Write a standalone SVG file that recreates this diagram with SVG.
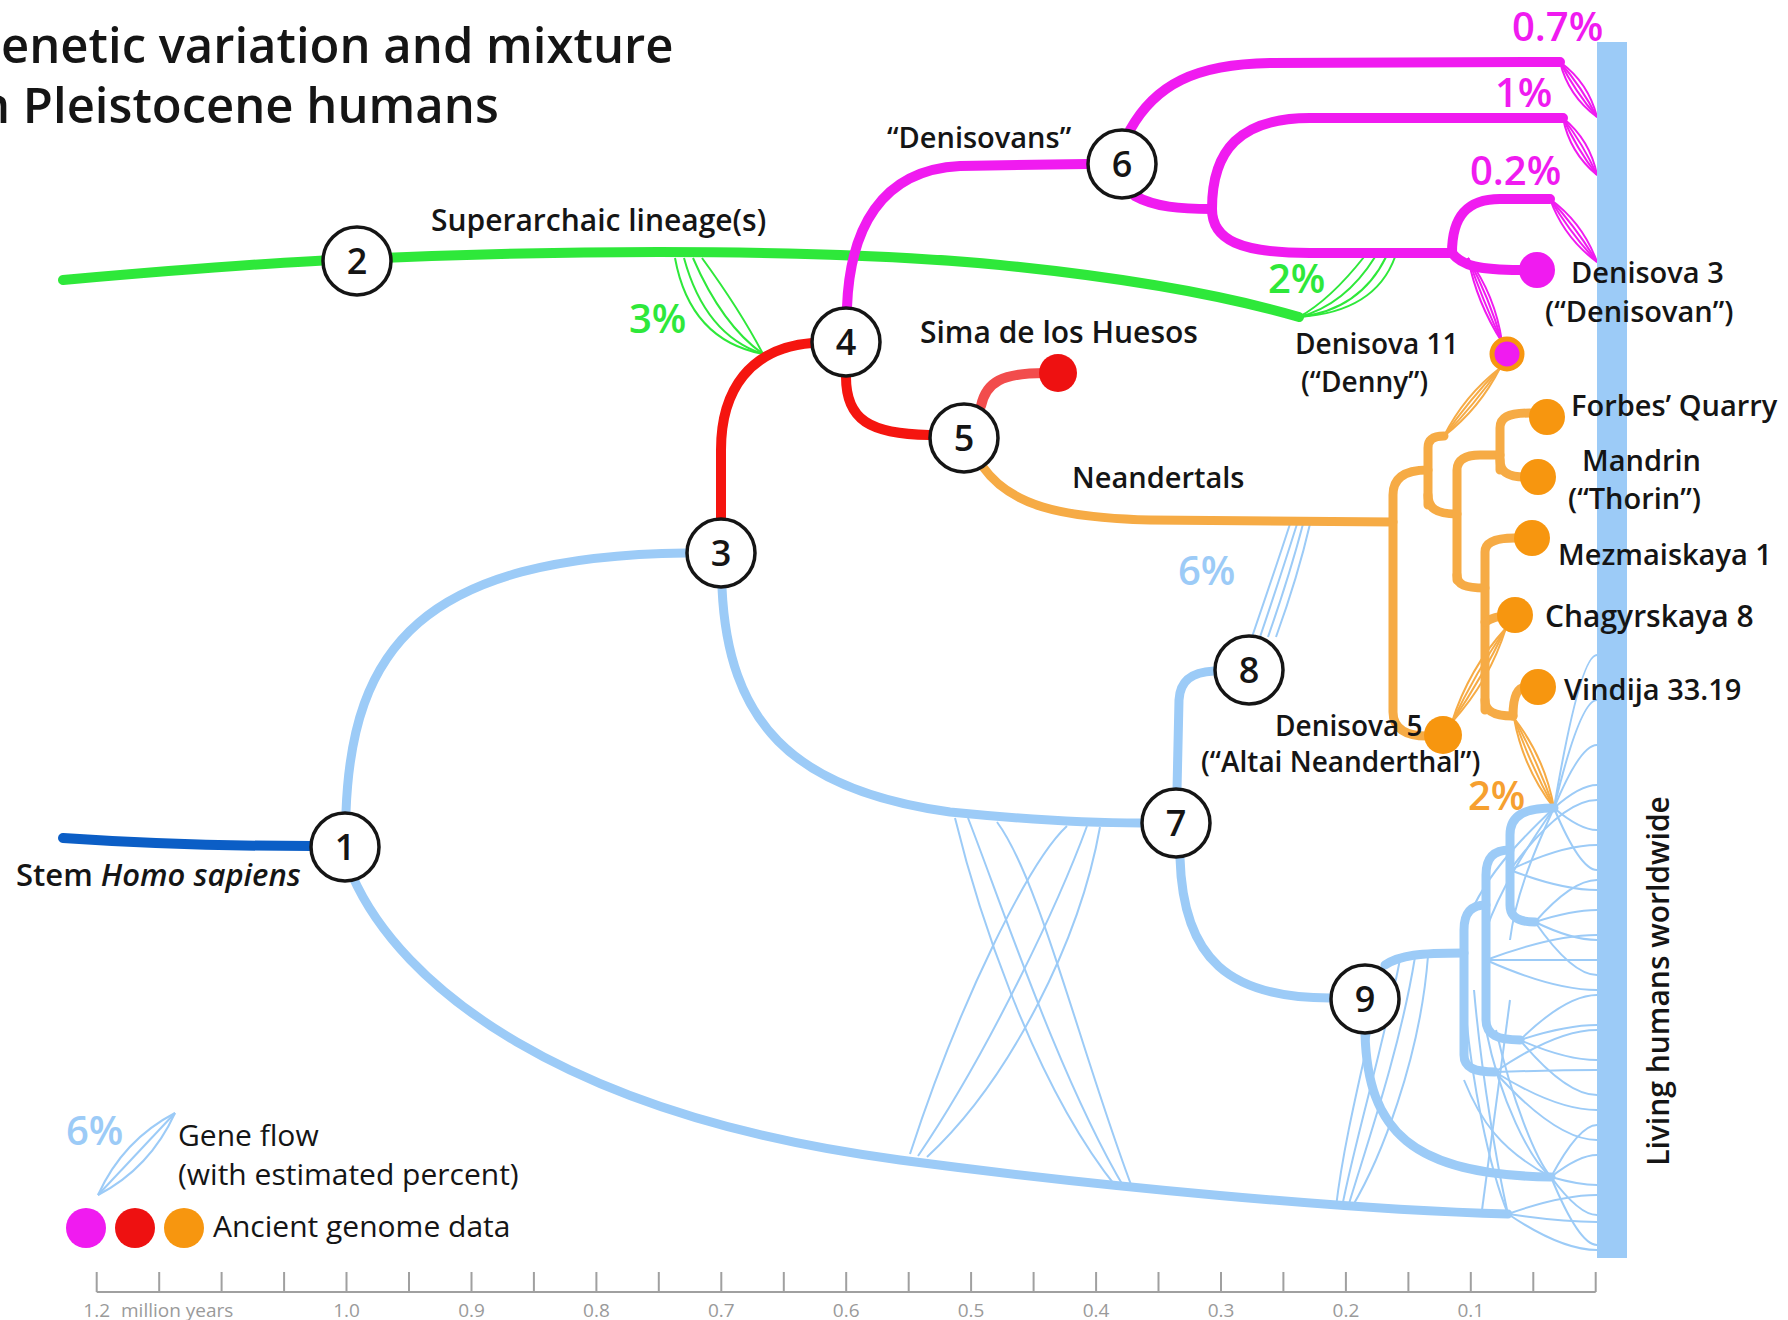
<svg xmlns="http://www.w3.org/2000/svg" width="1788" height="1320" viewBox="0 0 1788 1320">
<style>
text{font-family:"Open Sans","Liberation Sans",sans-serif;fill:#151515}
.t{font-size:49px;font-weight:600}
.lbl{font-size:29px;font-weight:600}
.leg{font-size:30px;font-weight:500}
.pct{font-size:40px;font-weight:600}
.num{font-size:36px;font-weight:600;text-anchor:middle}
.ax{font-size:19px;fill:#9a9a9a;text-anchor:middle}
.k{fill:none;stroke-linecap:round;stroke-width:10}
.f{fill:none;stroke-width:2}
.bl{stroke:#9ccbf7}
.mg{stroke:#f01bf0}
.gr{stroke:#2ee83a}
.rd{stroke:#f5150f}
.or{stroke:#f6ab45}
.nd circle{fill:#fff;stroke:#151515;stroke-width:3.5}
</style>

<g id="title">
<text class="t" x="1" y="63">enetic variation and mixture</text>
<text class="t" x="-21" y="123">n Pleistocene humans</text>
</g>

<g id="connectors">
<g class="f gr">
<path d="M675,258 Q690,340 763,354"/>
<path d="M684,258 Q705,335 763,354"/>
<path d="M693,258 Q722,325 763,354"/>
<path d="M702,258 Q740,310 763,354"/>
<path d="M1299,317 Q1330,300 1364,257"/>
<path d="M1299,317 Q1345,305 1375,257"/>
<path d="M1299,317 Q1360,310 1386,257"/>
<path d="M1299,317 Q1375,312 1395,257"/>
</g>
<g class="f mg">
<path d="M1560,62 Q1568.5,96.2 1597,117"/>
<path d="M1560,62 Q1575.2,91.7 1597,117"/>
<path d="M1560,62 Q1581.8,87.3 1597,117"/>
<path d="M1560,62 Q1588.5,82.8 1597,117"/>
<path d="M1563,118 Q1569.7,152.6 1597,175"/>
<path d="M1563,118 Q1576.6,148.5 1597,175"/>
<path d="M1563,118 Q1583.4,144.5 1597,175"/>
<path d="M1563,118 Q1590.3,140.4 1597,175"/>
<path d="M1550,199 Q1563.9,237.7 1597,262"/>
<path d="M1550,199 Q1570.3,232.9 1597,262"/>
<path d="M1550,199 Q1576.7,228.1 1597,262"/>
<path d="M1550,199 Q1583.1,223.3 1597,262"/>
<path d="M1468,258 Q1476.7,302.6 1502,342"/>
<path d="M1468,258 Q1482.7,300.3 1502,342"/>
<path d="M1468,258 Q1489.3,297.7 1502,342"/>
<path d="M1468,258 Q1495.3,295.4 1502,342"/>
</g>
<g class="f or">
<path d="M1444,436 Q1479.7,408.4 1500,368"/>
<path d="M1444,436 Q1474.7,404.2 1500,368"/>
<path d="M1444,436 Q1469.3,399.8 1500,368"/>
<path d="M1444,436 Q1464.3,395.6 1500,368"/>
<path d="M1452,722 Q1489.4,681 1506,628"/>
<path d="M1452,722 Q1482.5,677 1506,628"/>
<path d="M1452,722 Q1475.5,673 1506,628"/>
<path d="M1452,722 Q1468.6,669 1506,628"/>
<path d="M1514,718 Q1523,767.9 1554,808"/>
<path d="M1514,718 Q1530.3,764.6 1554,808"/>
<path d="M1514,718 Q1537.7,761.4 1554,808"/>
<path d="M1514,718 Q1545,758.1 1554,808"/>
</g>
<g class="f bl">
<path d="M1252,637 Q1275,570 1290,524"/>
<path d="M1260,637 Q1282,572 1297,524"/>
<path d="M1268,637 Q1290,574 1303,524"/>
<path d="M1276,637 Q1298,576 1310,524"/>
<path d="M955,818 C975,900 1030,1080 1117,1188"/>
<path d="M968,818 C1000,900 1060,1080 1125,1189"/>
<path d="M997,822 C1040,880 1080,1050 1133,1190"/>
<path d="M1067,826 C1030,860 960,1000 910,1154"/>
<path d="M1087,826 C1060,900 990,1050 918,1156"/>
<path d="M1100,827 C1080,940 1010,1080 927,1157"/>
<path d="M1385,962 C1370,1040 1345,1130 1336,1207"/>
<path d="M1400,959 C1385,1040 1355,1140 1342,1207"/>
<path d="M1415,957 C1400,1050 1365,1150 1348,1207"/>
<path d="M1428,956 C1420,1060 1380,1160 1352,1207"/>
<path d="M1554,808 Q1580,655 1597,655"/>
<path d="M1554,808 Q1580,700 1597,700"/>
<path d="M1554,808 Q1580,745 1597,745"/>
<path d="M1554,808 Q1580,785 1597,785"/>
<path d="M1554,808 Q1580,830 1597,830"/>
<path d="M1554,808 Q1580,870 1597,870"/>
<path d="M1535,922 Q1572,880 1597,880"/>
<path d="M1535,922 Q1572,910 1597,910"/>
<path d="M1535,922 Q1572,940 1597,940"/>
<path d="M1535,922 Q1572,975 1597,975"/>
<path d="M1510,870 Q1562,800 1597,800"/>
<path d="M1510,870 Q1562,845 1597,845"/>
<path d="M1510,870 Q1562,890 1597,890"/>
<path d="M1486,960 Q1553,935 1597,935"/>
<path d="M1486,960 Q1553,960 1597,960"/>
<path d="M1486,960 Q1553,990 1597,990"/>
<path d="M1520,1040 Q1566,995 1597,995"/>
<path d="M1520,1040 Q1566,1025 1597,1025"/>
<path d="M1520,1040 Q1566,1060 1597,1060"/>
<path d="M1520,1040 Q1566,1095 1597,1095"/>
<path d="M1495,1072 Q1556,1030 1597,1030"/>
<path d="M1495,1072 Q1556,1070 1597,1070"/>
<path d="M1495,1072 Q1556,1110 1597,1110"/>
<path d="M1495,1072 Q1556,1140 1597,1140"/>
<path d="M1551,1177 Q1579,1125 1597,1125"/>
<path d="M1551,1177 Q1579,1155 1597,1155"/>
<path d="M1551,1177 Q1579,1185 1597,1185"/>
<path d="M1551,1177 Q1579,1215 1597,1215"/>
<path d="M1551,1177 Q1579,1245 1597,1245"/>
<path d="M1508,1214 Q1561,1195 1597,1195"/>
<path d="M1508,1214 Q1561,1222 1597,1222"/>
<path d="M1508,1214 Q1561,1250 1597,1250"/>
<path d="M1554,808 C1520,840 1480,880 1464,930"/>
<path d="M1554,808 C1525,850 1500,890 1486,930"/>
<path d="M1554,808 C1530,860 1515,900 1510,940"/>
<path d="M1464,990 C1470,1080 1490,1170 1508,1214"/>
<path d="M1474,990 C1482,1080 1498,1170 1508,1214"/>
<path d="M1486,1030 C1500,1100 1530,1160 1551,1177"/>
<path d="M1496,1030 C1512,1100 1536,1160 1551,1177"/>
<path d="M1464,1080 C1480,1120 1500,1150 1551,1177"/>
<path d="M1510,1000 C1500,1080 1490,1150 1482,1210"/>
</g>

<path class="k" stroke="#0b5ec6" d="M63,838 C150,844 250,846 311,846"/>
<path class="k gr" d="M63,280 C200,268 300,261 357,259 C600,248 850,250 1000,265 C1130,278 1230,297 1299,317"/>
<path class="k rd" d="M721,518 L721,450 C721,390 750,348 812,343"/>
<path class="k rd" d="M846,377 C846,420 870,434 929,435"/>
<path class="k" stroke="#f24c4c" d="M981,406 C986,382 1002,373 1045,373"/>
<path class="k mg" d="M847,307 C850,230 880,170 960,166 L1087,164"/>
<path class="k mg" d="M1130,130 C1155,85 1195,64 1270,63 L1560,62"/>
<path class="k mg" d="M1135,196 C1155,207 1180,209 1212,209"/>
<path class="k mg" d="M1212,209 C1212,150 1240,118 1310,118 L1563,118"/>
<path class="k mg" d="M1212,209 C1212,240 1240,253 1310,253 L1452,253"/>
<path class="k mg" d="M1452,253 C1452,215 1468,199 1500,199 L1550,199"/>
<path class="k mg" d="M1452,253 C1462,266 1480,270 1520,270"/>
<g class="k or" style="stroke-width:9">
<path d="M983,467 C1010,505 1060,518 1150,520 L1393,522"/>
<path d="M1428,470 C1402,470 1393,480 1393,495 L1393,712 C1393,728 1405,736 1427,736"/>
<path d="M1428,505 L1428,448 C1428,440 1433,436 1444,436"/>
<path d="M1428,495 C1428,508 1436,514 1457,514"/>
<path d="M1457,580 L1457,470 C1457,460 1465,455 1480,455 L1500,455"/>
<path d="M1500,470 L1500,428 C1500,418 1507,413 1530,413"/>
<path d="M1500,460 C1500,472 1508,477 1525,477"/>
<path d="M1457,575 C1457,585 1465,588 1485,588"/>
<path d="M1485,710 L1485,552 C1485,543 1495,538 1515,538"/>
<path d="M1485,622 C1492,618 1498,616 1505,616"/>
<path d="M1485,700 C1485,712 1495,716 1513,716"/>
<path d="M1513,716 C1513,700 1516,688 1525,687"/>
</g>
<g class="k bl" style="stroke-width:9">
<path d="M346,812 C352,650 420,556 686,553"/>
<path d="M352,875 C400,985 560,1115 900,1160 C1100,1186.5 1350,1210 1508,1214"/>
<path d="M722,588 C728,720 790,790 950,812 C1050,822 1100,823 1141,823"/>
<path d="M1177,790 L1179,700 C1180,680 1192,672 1214,671"/>
<path d="M1180,858 C1183,960 1230,998 1330,998"/>
<path d="M1385,965 C1400,955 1420,953 1464,953"/>
<path d="M1365,1034 C1368,1130 1410,1175 1551,1177"/>
<path d="M1554,808 C1525,808 1510,815 1510,835 L1510,905 C1510,918 1520,922 1535,922"/>
<path d="M1510,850 C1493,850 1486,858 1486,875 L1486,1020 C1486,1035 1498,1040 1520,1040"/>
<path d="M1486,905 C1472,905 1464,912 1464,930 L1464,1055 C1464,1068 1475,1072 1495,1072"/>
</g>
</g>

<rect id="living-humans" x="1597" y="42" width="30" height="1216" fill="#9ccbf7"/>

<g id="genomes">
<circle cx="1058" cy="373" r="19" fill="#ee1111"/>
<circle cx="1537" cy="270" r="18" fill="#f01bf0"/>
<circle cx="1507" cy="354" r="15" fill="#f01bf0" stroke="#f7960f" stroke-width="5"/>
<g fill="#f7960f">
<circle cx="1547" cy="417" r="18"/>
<circle cx="1538" cy="477" r="18"/>
<circle cx="1532" cy="538" r="18"/>
<circle cx="1515" cy="615" r="18"/>
<circle cx="1538" cy="687" r="18"/>
<circle cx="1443" cy="735" r="19"/>
</g>
</g>

<g id="n1" class="nd"><circle cx="345" cy="847" r="34"/><text class="num" x="345" y="860">1</text></g>
<g id="n2" class="nd"><circle cx="357" cy="261" r="34"/><text class="num" x="357" y="274">2</text></g>
<g id="n3" class="nd"><circle cx="721" cy="553" r="34"/><text class="num" x="721" y="566">3</text></g>
<g id="n4" class="nd"><circle cx="846" cy="342" r="34"/><text class="num" x="846" y="355">4</text></g>
<g id="n5" class="nd"><circle cx="964" cy="438" r="34"/><text class="num" x="964" y="451">5</text></g>
<g id="n6" class="nd"><circle cx="1122" cy="164" r="34"/><text class="num" x="1122" y="177">6</text></g>
<g id="n7" class="nd"><circle cx="1176" cy="823" r="34"/><text class="num" x="1176" y="836">7</text></g>
<g id="n8" class="nd"><circle cx="1249" cy="670" r="34"/><text class="num" x="1249" y="683">8</text></g>
<g id="n9" class="nd"><circle cx="1365" cy="999" r="34"/><text class="num" x="1365" y="1012">9</text></g>

<g id="labels">
<text class="lbl" x="431" y="231" style="font-size:30px">Superarchaic lineage(s)</text>
<text class="lbl" x="16" y="886" style="font-size:31px">Stem <tspan font-style="italic">Homo sapiens</tspan></text>
<text class="lbl" x="887" y="148">“Denisovans”</text>
<text class="lbl" x="920" y="343" style="font-size:30px">Sima de los Huesos</text>
<text class="lbl" x="1072" y="488">Neandertals</text>
<text class="lbl" x="1295" y="354" style="font-size:28px">Denisova 11</text>
<text class="lbl" x="1301" y="392" style="font-size:28px">(“Denny”)</text>
<text class="lbl" x="1571" y="283">Denisova 3</text>
<text class="lbl" x="1545" y="322">(“Denisovan”)</text>
<text class="lbl" x="1571" y="416">Forbes’ Quarry</text>
<text class="lbl" x="1582" y="471">Mandrin</text>
<text class="lbl" x="1568" y="509">(“Thorin”)</text>
<text class="lbl" x="1558" y="565">Mezmaiskaya 1</text>
<text class="lbl" x="1545" y="627" style="font-size:30px">Chagyrskaya 8</text>
<text class="lbl" x="1564" y="700">Vindija 33.19</text>
<text class="lbl" x="1275" y="736" style="font-size:28px">Denisova 5</text>
<text class="lbl" x="1201" y="772" style="font-size:28px">(“Altai Neanderthal”)</text>
<text class="lbl" transform="translate(1669,981) rotate(-90)" text-anchor="middle" style="font-size:30px">Living humans worldwide</text>
<text class="pct" x="629" y="333" style="fill:#2ee83a">3%</text>
<text class="pct" x="1268" y="293" style="fill:#2ee83a">2%</text>
<text class="pct" x="1512" y="41" style="fill:#f01bf0">0.7%</text>
<text class="pct" x="1495" y="107" style="fill:#f01bf0">1%</text>
<text class="pct" x="1470" y="185" style="fill:#f01bf0">0.2%</text>
<text class="pct" x="1178" y="585" style="fill:#9ccbf7">6%</text>
<text class="pct" x="1468" y="810" style="fill:#f6a030">2%</text>
</g>

<g id="legend">
<g class="f bl">
<path d="M98,1195 Q150,1168 175,1113"/>
<path d="M98,1195 Q136.5,1154 175,1113"/>
<path d="M98,1195 Q123,1140 175,1113"/>
</g>
<text class="pct" x="66" y="1145" style="fill:#9ccbf7">6%</text>
<text class="leg" x="178" y="1146">Gene flow</text>
<text class="leg" x="178" y="1185">(with estimated percent)</text>
<circle cx="86" cy="1228" r="20" fill="#f01bf0"/>
<circle cx="135" cy="1228" r="20" fill="#ee1111"/>
<circle cx="184" cy="1228" r="20" fill="#f7960f"/>
<text class="leg" x="213" y="1237">Ancient genome data</text>
</g>

<g id="axis">
<path fill="none" stroke="#a0a0a0" stroke-width="2" d="M96.7,1292 H1595.7 M96.7,1272 V1292 M159.2,1272 V1292 M221.6,1272 V1292 M284.1,1272 V1292 M346.5,1272 V1292 M409,1272 V1292 M471.5,1272 V1292 M533.9,1272 V1292 M596.4,1272 V1292 M658.8,1272 V1292 M721.3,1272 V1292 M783.8,1272 V1292 M846.2,1272 V1292 M908.7,1272 V1292 M971.1,1272 V1292 M1033.6,1272 V1292 M1096.1,1272 V1292 M1158.5,1272 V1292 M1221,1272 V1292 M1283.4,1272 V1292 M1345.9,1272 V1292 M1408.4,1272 V1292 M1470.8,1272 V1292 M1533.3,1272 V1292 M1595.7,1272 V1292"/>
<text class="ax" x="96.7" y="1317">1.2</text>
<text class="ax" x="121" y="1317" style="text-anchor:start">million years</text>
<text class="ax" x="346.5" y="1317">1.0</text>
<text class="ax" x="471.5" y="1317">0.9</text>
<text class="ax" x="596.4" y="1317">0.8</text>
<text class="ax" x="721.3" y="1317">0.7</text>
<text class="ax" x="846.2" y="1317">0.6</text>
<text class="ax" x="971.1" y="1317">0.5</text>
<text class="ax" x="1096.1" y="1317">0.4</text>
<text class="ax" x="1221" y="1317">0.3</text>
<text class="ax" x="1345.9" y="1317">0.2</text>
<text class="ax" x="1470.8" y="1317">0.1</text>
</g>
</svg>
